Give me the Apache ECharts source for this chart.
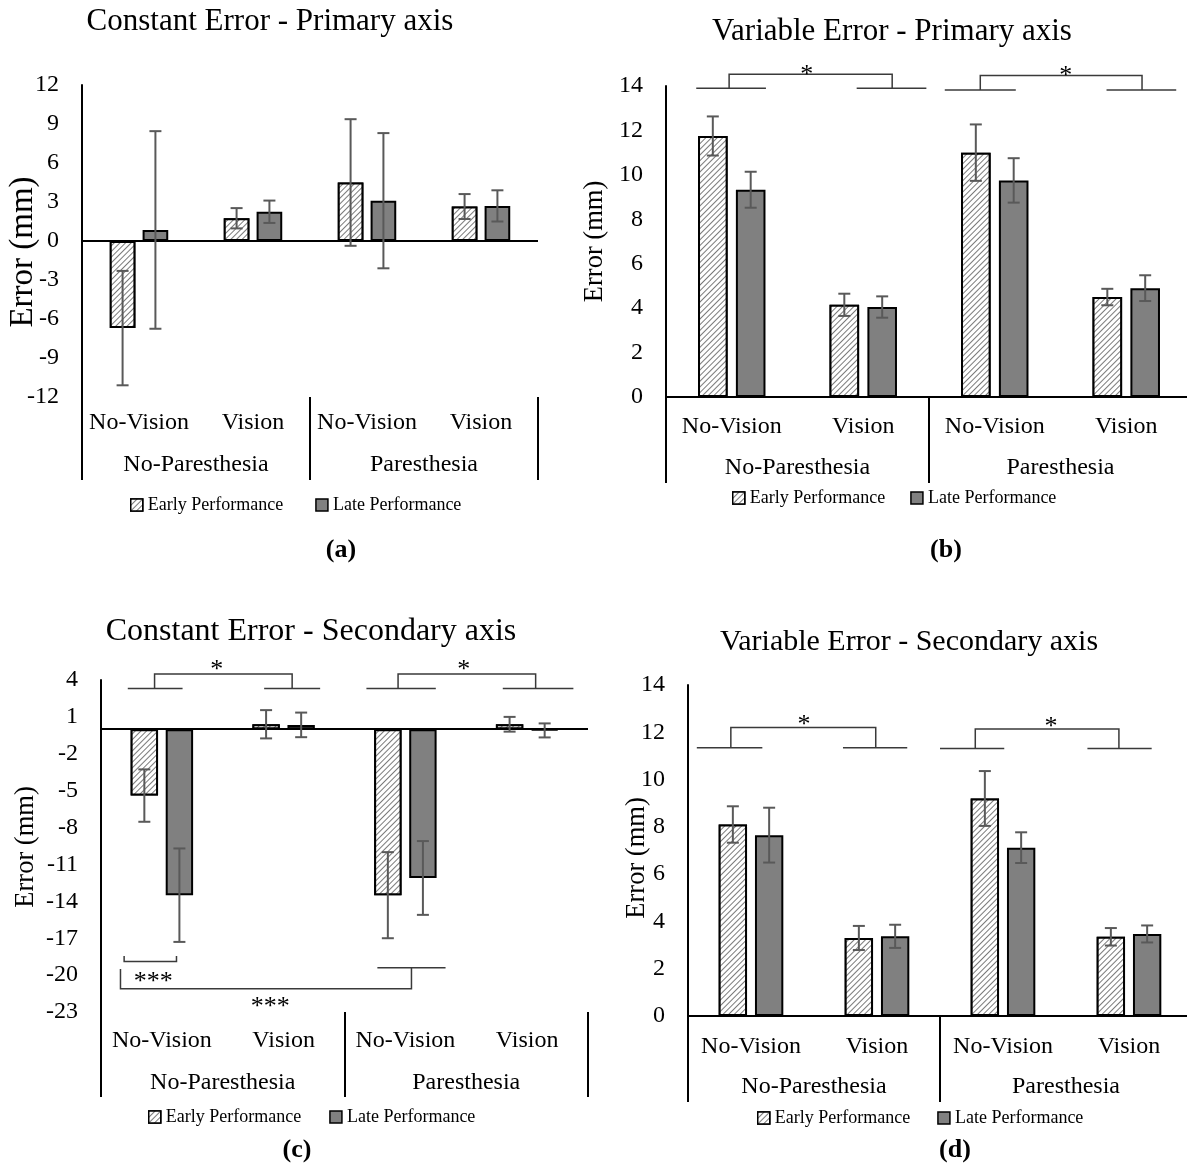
<!DOCTYPE html>
<html>
<head>
<meta charset="utf-8">
<script src="https://cdn.jsdelivr.net/npm/echarts@6/dist/echarts.min.js"></script>
<style>
  html, body { margin: 0; padding: 0; background: #fff; }
  #chart { width: 1187px; height: 1172px; }
</style>
</head>
<body>
<div id="chart"></div>
<script>
// categories
const conditions = ['No-Vision', 'Vision', 'No-Vision', 'Vision']
const groups = ['No-Paresthesia', 'Paresthesia']
const seriesNames = ['Early Performance', 'Late Performance']

// (a) Constant Error - Primary axis
const ceEarlyPrimary = [-6.7, 1.75, 4.5, 2.65]
const ceEarlyPrimaryErr = [4.4, 0.78, 4.87, 0.96]
const ceLatePrimary = [0.85, 2.25, 3.1, 2.7]
const ceLatePrimaryErr = [7.6, 0.86, 5.2, 1.2]
const ticksA = [-12, -9, -6, -3, 0, 3, 6, 9, 12]

// (b) Variable Error - Primary axis
const veEarlyPrimary = [11.75, 4.15, 11.0, 4.5]
const veEarlyPrimaryErr = [0.88, 0.5, 1.27, 0.37]
const veLatePrimary = [9.33, 4.05, 9.75, 4.9]
const veLatePrimaryErr = [0.81, 0.48, 1.0, 0.58]
const ticksB = [0, 2, 4, 6, 8, 10, 12, 14]

// (c) Constant Error - Secondary axis
const ceEarlySecondary = [-5.4, 0.4, -13.5, 0.4]
const ceEarlySecondaryErr = [2.13, 1.15, 3.5, 0.6]
const ceLateSecondary = [-13.5, 0.35, -12.1, -0.1]
const ceLateSecondaryErr = [3.8, 1.0, 3.0, 0.57]
const ticksC = [-23, -20, -17, -14, -11, -8, -5, -2, 1, 4]

// (d) Variable Error - Secondary axis
const veEarlySecondary = [8.1, 3.3, 9.2, 3.35]
const veEarlySecondaryErr = [0.77, 0.51, 1.16, 0.37]
const veLateSecondary = [7.65, 3.37, 7.12, 3.47]
const veLateSecondaryErr = [1.16, 0.49, 0.65, 0.36]
const ticksD = [0, 2, 4, 6, 8, 10, 12, 14]

// significance brackets: [category position, value] polylines
const bracketsB = [
  [[-0.27, 13.9], [0.26, 13.9]],
  [[0.95, 13.9], [1.48, 13.9]],
  [[-0.02, 13.9], [-0.02, 14.53], [1.22, 14.53], [1.22, 13.9]],
  [[1.62, 13.82], [2.16, 13.82]],
  [[2.85, 13.82], [3.38, 13.82]],
  [[1.89, 13.82], [1.89, 14.47], [3.12, 14.47], [3.12, 13.82]]
]
const starsB = [[0.57, 14.5, '*'], [2.54, 14.45, '*']]

const bracketsC = [
  [[-0.28, 3.31], [0.17, 3.31]],
  [[0.84, 3.31], [1.3, 3.31]],
  [[-0.06, 3.31], [-0.06, 4.48], [1.07, 4.48], [1.07, 3.31]],
  [[1.68, 3.31], [2.25, 3.31]],
  [[2.8, 3.31], [3.38, 3.31]],
  [[1.94, 3.31], [1.94, 4.48], [3.07, 4.48], [3.07, 3.31]],
  [[-0.31, -18.45], [-0.31, -18.9], [0.12, -18.9], [0.12, -18.45]],
  [[-0.34, -19.5], [-0.34, -21.1], [2.05, -21.1], [2.05, -19.4]],
  [[1.77, -19.4], [2.33, -19.4]]
]
const starsC = [[0.45, 4.8, '*'], [2.48, 4.8, '*'], [-0.07, -20.6, '***'], [0.89, -22.6, '***']]

const bracketsD = [
  [[-0.43, 11.35], [0.09, 11.35]],
  [[0.73, 11.35], [1.24, 11.35]],
  [[-0.16, 11.35], [-0.16, 12.2], [0.99, 12.2], [0.99, 11.35]],
  [[1.5, 11.31], [2.01, 11.31]],
  [[2.67, 11.31], [3.18, 11.31]],
  [[1.78, 11.31], [1.78, 12.14], [2.92, 12.14], [2.92, 11.31]]
]
const starsD = [[0.42, 12.28, '*'], [2.38, 12.2, '*']]

const FONT = '"Liberation Serif", "Times New Roman", serif'
const BAR_W = 0.225
const BAR_GAP = 0.28
const HATCH = {
  symbol: 'rect',
  symbolSize: 1,
  dashArrayX: [1, 0],
  dashArrayY: [1, 3],
  rotation: -Math.PI / 4,
  color: '#7a7a7a',
  backgroundColor: '#fff'
}

const panels = [
  {
    title: 'Constant Error - Primary axis', titleX: 270, titleY: 22, titleSize: 31,
    letter: '(a)', letterX: 341, letterY: 550,
    early: ceEarlyPrimary, earlyErr: ceEarlyPrimaryErr, late: ceLatePrimary, lateErr: ceLatePrimaryErr,
    ticks: ticksA, min: -12, max: 12,
    grid: { left: 82, top: 85, width: 456, height: 312 },
    nameGap: 42, nameSize: 33, nameShift: 22, innerMargin: 14, outerMargin: 56, tickLen: 83,
    legend: { left: 130, top: 496, gap: 32 },
    brackets: [], stars: []
  },
  {
    title: 'Variable Error - Primary axis', titleX: 892, titleY: 32, titleSize: 31,
    letter: '(b)', letterX: 946, letterY: 550,
    early: veEarlyPrimary, earlyErr: veEarlyPrimaryErr, late: veLatePrimary, lateErr: veLatePrimaryErr,
    ticks: ticksB, min: 0, max: 14,
    grid: { left: 666, top: 86, width: 526, height: 311 },
    nameGap: 57, nameSize: 26.5, nameShift: 0, innerMargin: 18, outerMargin: 59, tickLen: 86,
    legend: { left: 732, top: 489, gap: 25 },
    brackets: bracketsB, stars: starsB
  },
  {
    title: 'Constant Error - Secondary axis', titleX: 311, titleY: 632, titleSize: 32,
    letter: '(c)', letterX: 297, letterY: 1150,
    early: ceEarlySecondary, earlyErr: ceEarlySecondaryErr, late: ceLateSecondary, lateErr: ceLateSecondaryErr,
    ticks: ticksC, min: -23, max: 4,
    grid: { left: 101, top: 680, width: 487, height: 332 },
    nameGap: 61, nameSize: 26.5, nameShift: 2, innerMargin: 17, outerMargin: 59, tickLen: 85,
    legend: { left: 148, top: 1108, gap: 28 },
    brackets: bracketsC, stars: starsC
  },
  {
    title: 'Variable Error - Secondary axis', titleX: 909, titleY: 642, titleSize: 30,
    letter: '(d)', letterX: 955, letterY: 1150,
    early: veEarlySecondary, earlyErr: veEarlySecondaryErr, late: veLateSecondary, lateErr: veLateSecondaryErr,
    ticks: ticksD, min: 0, max: 14,
    grid: { left: 688, top: 685, width: 504, height: 331 },
    nameGap: 37, nameSize: 26.5, nameShift: 15, innerMargin: 19, outerMargin: 59, tickLen: 86,
    legend: { left: 757, top: 1109, gap: 27 },
    brackets: bracketsD, stars: starsD
  }
]

function errorBarRender(side) {
  return function (params, api) {
    const cat = api.value(0)
    const val = api.value(1)
    const err = api.value(2)
    const band = api.size([1, 0])[0]
    const w = band * BAR_W
    const dx = side * w * (1 + BAR_GAP) / 2
    const hi = api.coord([cat, val + err])
    const lo = api.coord([cat, val - err])
    const x = hi[0] + dx
    const cap = 6
    const style = { stroke: '#595959', lineWidth: 2 }
    return {
      type: 'group',
      children: [
        { type: 'line', shape: { x1: x, y1: hi[1], x2: x, y2: lo[1] }, style: style },
        { type: 'line', shape: { x1: x - cap, y1: hi[1], x2: x + cap, y2: hi[1] }, style: style },
        { type: 'line', shape: { x1: x - cap, y1: lo[1], x2: x + cap, y2: lo[1] }, style: style }
      ]
    }
  }
}

function bracketRender(lines) {
  return function (params, api) {
    const pts = lines[params.dataIndex]
    const band = api.size([1, 0])[0]
    const points = pts.map(function (p) {
      const c = api.coord([0, p[1]])
      return [c[0] + p[0] * band, c[1]]
    })
    return {
      type: 'polyline',
      shape: { points: points },
      style: { stroke: '#3a3a3a', lineWidth: 1.5, fill: null }
    }
  }
}

function starRender(stars) {
  return function (params, api) {
    const s = stars[params.dataIndex]
    const band = api.size([1, 0])[0]
    const c = api.coord([0, s[1]])
    return {
      type: 'text',
      x: c[0] + s[0] * band,
      y: c[1],
      style: {
        text: s[2],
        font: '26px ' + FONT,
        fill: '#000',
        textAlign: 'center',
        textVerticalAlign: 'middle'
      }
    }
  }
}

const grid = []
const xAxis = []
const yAxis = []
const series = []
const legend = []
const graphic = []

panels.forEach(function (p, i) {
  grid.push(Object.assign({ outerBoundsMode: 'none' }, p.grid))

  xAxis.push({
    type: 'category',
    gridIndex: i,
    data: conditions,
    position: 'bottom',
    axisLine: { show: false, onZero: false },
    axisTick: { show: false },
    axisLabel: { margin: p.innerMargin, fontSize: 24, color: '#000', fontFamily: FONT, interval: 0 }
  })
  xAxis.push({
    type: 'category',
    gridIndex: i,
    data: groups,
    position: 'bottom',
    axisLine: { show: false, onZero: false },
    axisTick: { show: true, length: p.tickLen, interval: 0, lineStyle: { color: '#000', width: 2 } },
    axisLabel: { margin: p.outerMargin, fontSize: 24, color: '#000', fontFamily: FONT, interval: 0 }
  })

  yAxis.push({
    type: 'value',
    gridIndex: i,
    min: p.min,
    max: p.max,
    name: 'Error (mm)',
    nameLocation: 'middle',
    nameRotate: 90,
    nameGap: p.nameGap,
    nameMoveOverlap: false,
    nameTextStyle: { fontSize: p.nameSize, color: '#000', fontFamily: FONT, padding: [0, p.nameShift, 0, 0] },
    axisLine: { show: true, onZero: false, lineStyle: { color: '#000', width: 2 } },
    axisTick: { show: false },
    splitLine: { show: false },
    axisLabel: { customValues: p.ticks, fontSize: 24, color: '#000', fontFamily: FONT, margin: 23 }
  })

  const xi = i * 2
  series.push({
    name: seriesNames[0],
    type: 'bar',
    xAxisIndex: xi,
    yAxisIndex: i,
    data: p.early,
    barWidth: (BAR_W * 100) + '%',
    barGap: (BAR_GAP * 100) + '%',
    itemStyle: { color: '#fff', borderColor: '#000', borderWidth: 2, decal: HATCH },
    markLine: {
      silent: true,
      symbol: 'none',
      label: { show: false },
      lineStyle: { color: '#000', width: 2, type: 'solid' },
      data: [{ yAxis: 0 }]
    }
  })
  series.push({
    name: seriesNames[1],
    type: 'bar',
    xAxisIndex: xi,
    yAxisIndex: i,
    data: p.late,
    barWidth: (BAR_W * 100) + '%',
    barGap: (BAR_GAP * 100) + '%',
    itemStyle: { color: '#808080', borderColor: '#000', borderWidth: 2 }
  })
  series.push({
    type: 'custom',
    xAxisIndex: xi,
    yAxisIndex: i,
    clip: false,
    z: 5,
    renderItem: errorBarRender(-1),
    data: p.early.map(function (v, k) { return [k, v, p.earlyErr[k]] })
  })
  series.push({
    type: 'custom',
    xAxisIndex: xi,
    yAxisIndex: i,
    clip: false,
    z: 5,
    renderItem: errorBarRender(1),
    data: p.late.map(function (v, k) { return [k, v, p.lateErr[k]] })
  })
  if (p.brackets.length) {
    series.push({
      type: 'custom',
      xAxisIndex: xi,
      yAxisIndex: i,
      clip: false,
      renderItem: bracketRender(p.brackets),
      data: p.brackets.map(function (l) { return [0, l[0][1]] })
    })
    series.push({
      type: 'custom',
      xAxisIndex: xi,
      yAxisIndex: i,
      clip: false,
      renderItem: starRender(p.stars),
      data: p.stars.map(function (s) { return [0, s[1]] })
    })
  }

  legend.push({
    left: p.legend.left,
    top: p.legend.top,
    padding: 0,
    icon: 'rect',
    itemWidth: 12,
    itemHeight: 12,
    itemGap: p.legend.gap,
    selectedMode: false,
    textStyle: { fontSize: 18, color: '#000', fontFamily: FONT },
    data: [
      { name: seriesNames[0], itemStyle: { color: '#fff', borderColor: '#000', borderWidth: 1.5, decal: HATCH } },
      { name: seriesNames[1], itemStyle: { color: '#808080', borderColor: '#000', borderWidth: 1.5 } }
    ]
  })

  graphic.push({
    type: 'text',
    x: p.titleX,
    y: p.titleY,
    style: { text: p.title, font: p.titleSize + 'px ' + FONT, fill: '#000', textAlign: 'center', textVerticalAlign: 'middle' }
  })
  graphic.push({
    type: 'text',
    x: p.letterX,
    y: p.letterY,
    style: { text: p.letter, font: 'bold 26px ' + FONT, fill: '#000', textAlign: 'center', textVerticalAlign: 'middle' }
  })
})

const chart = echarts.init(document.getElementById('chart'))
chart.setOption({
  animation: false,
  backgroundColor: '#fff',
  grid: grid,
  xAxis: xAxis,
  yAxis: yAxis,
  legend: legend,
  graphic: graphic,
  series: series
})
</script>
</body>
</html>
